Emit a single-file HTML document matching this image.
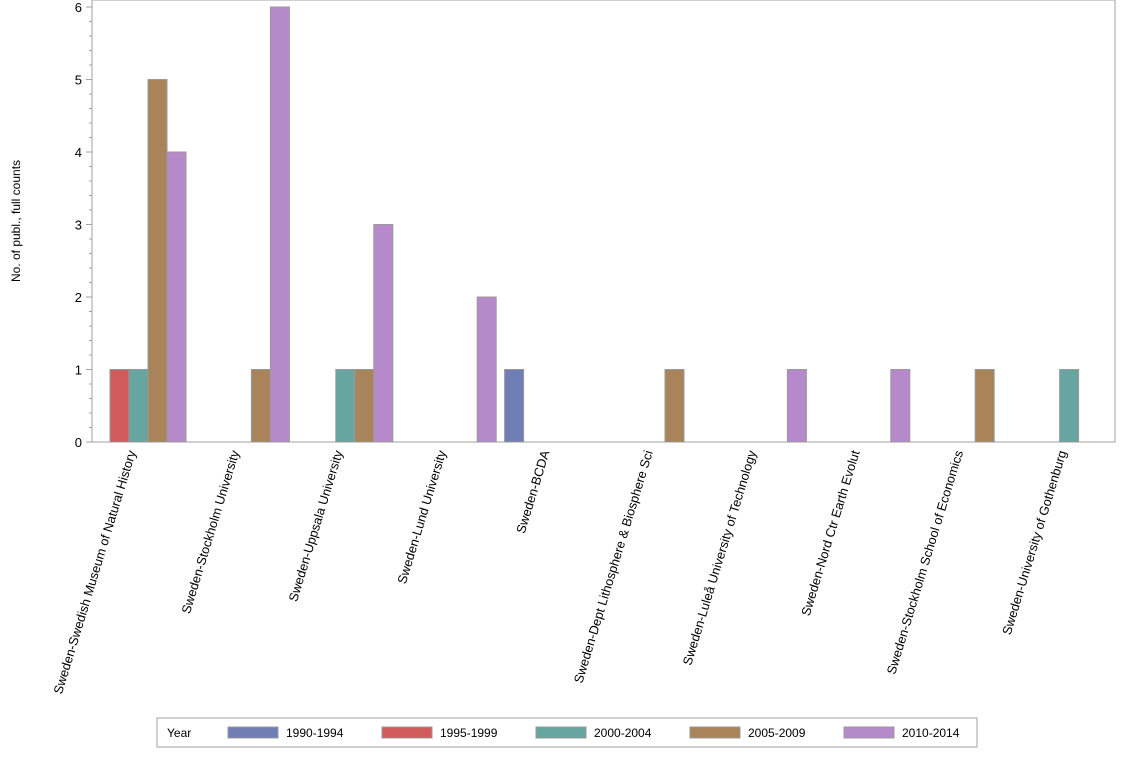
<!DOCTYPE html>
<html><head><meta charset="utf-8"><style>
body{margin:0;background:#fff;font-family:"Liberation Sans","Noto Sans CJK SC",sans-serif;}
</style></head><body>
<svg width="1134" height="756" xmlns="http://www.w3.org/2000/svg" font-family="Liberation Sans, sans-serif">
<rect x="92" y="0" width="1023" height="442" fill="#fff" stroke="#a0a0a0"/>
<g id="yaxis"></g>
<g id="bars"></g>
<g id="xlabels"></g>
<text transform="translate(20,221) rotate(-90)" text-anchor="middle" font-size="12" fill="#000">No. of publ., full counts</text>
<g>
<rect x="157" y="718" width="820" height="29" fill="#fff" stroke="#a0a0a0"/>
<text x="167" y="737" font-size="12">Year</text>
<g id="legend"></g>
</g>
</svg>
<script>
const categories=["Sweden-Swedish Museum of Natural History","Sweden-Stockholm University","Sweden-Uppsala University","Sweden-Lund University","Sweden-BCDA","Sweden-Dept Lithosphere & Biosphere Sci","Sweden-Luleå University of Technology","Sweden-Nord Ctr Earth Evolut","Sweden-Stockholm School of Economics","Sweden-University of Gothenburg"];
const seriesNames=["1990-1994","1995-1999","2000-2004","2005-2009","2010-2014"];
const s1990=[0,0,0,0,1,0,0,0,0,0];
const s1995=[1,0,0,0,0,0,0,0,0,0];
const s2000=[1,0,1,0,0,0,0,0,0,1];
const s2005=[5,1,1,0,0,1,0,0,1,0];
const s2010=[4,6,3,2,0,0,1,1,0,0];
const yTicks=[0,1,2,3,4,5,6];
const series=[s1990,s1995,s2000,s2005,s2010];
const colors=["#6f7eb5","#d05b5b","#66a5a0","#a9845a","#b689cb"];
const NS="http://www.w3.org/2000/svg";
const L=92,R=1115,T=7,B=442,yMax=6;
const y=v=>B-(B-T)*v/yMax;
const gw=103.4, bw=19;
const x=(i,s)=>91+i*gw+s*bw;
function mk(t,a,p){const e=document.createElementNS(NS,t);for(const k in a)e.setAttribute(k,a[k]);p.appendChild(e);return e;}
const ya=document.getElementById('yaxis');
yTicks.forEach(v=>{
 const l=mk('line',{x1:86,x2:92,y1:y(v),y2:y(v),stroke:'#a0a0a0'},ya);
 
 
 const t=mk('text',{x:82,y:y(v)+5,'text-anchor':'end','font-size':13},ya);t.textContent=v;
 
 
 if(v<yMax){for(let k=1;k<5;k++){mk('line',{x1:89,x2:92,y1:y(v+k*0.2),y2:y(v+k*0.2),stroke:'#a0a0a0'},ya);}}
});
const bg=document.getElementById('bars');
series.forEach((arr,s)=>arr.forEach((v,i)=>{
 if(v<=0)return;
 const r=mk('rect',{x:x(i,s),y:y(v),width:bw,height:B-y(v),fill:colors[s],stroke:'#999','stroke-width':1},bg);
 
 
}));
const xl=document.getElementById('xlabels');
categories.forEach((c,i)=>{
 const cx=136+i*gw;
 const t=mk('text',{transform:`translate(${cx},452) rotate(-73)`,'text-anchor':'end','font-size':12.8},xl);
 t.textContent=c;
 
 
});
const lg=document.getElementById('legend');
const lx=[228,382,536,690,844];
seriesNames.forEach((n,s)=>{
 const r=mk('rect',{x:lx[s],y:727,width:50,height:11,fill:colors[s],stroke:'#999'},lg);
 
 
 const t=mk('text',{x:lx[s]+58,y:737,'font-size':12},lg);t.textContent=n;
 
 
});
</script>
</body></html>
